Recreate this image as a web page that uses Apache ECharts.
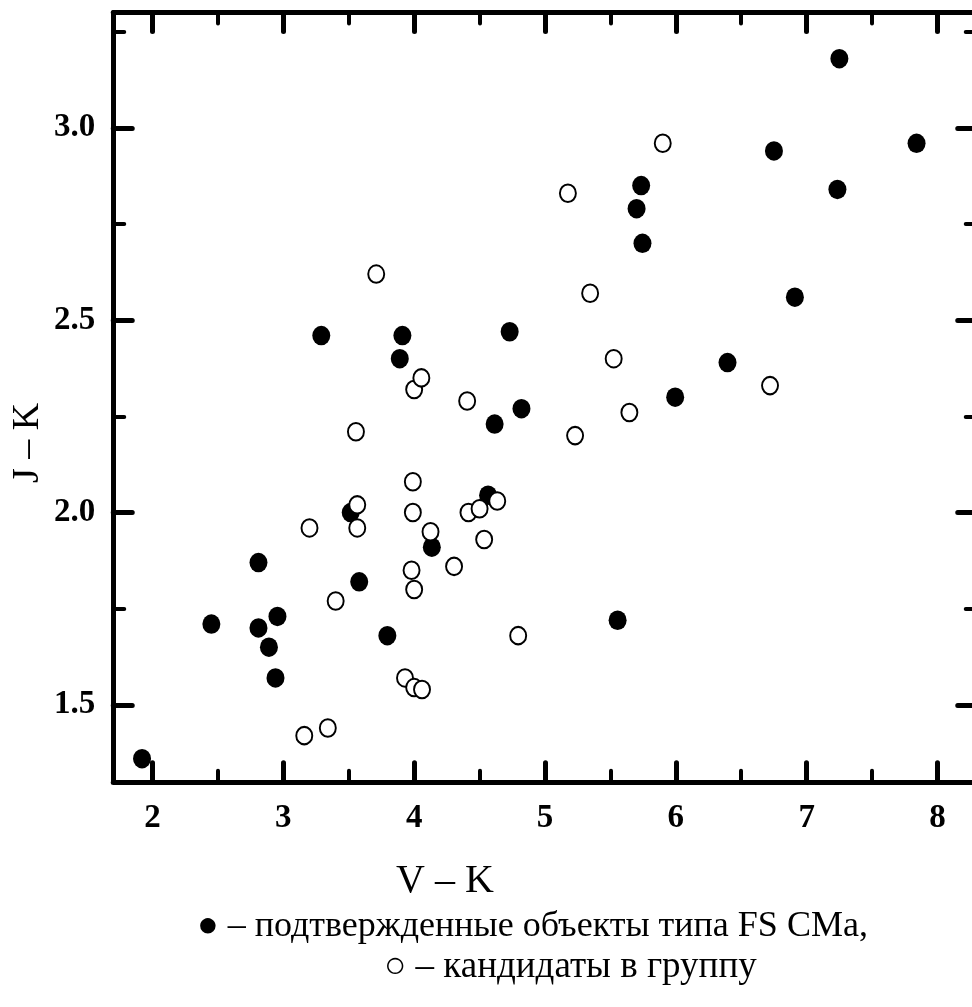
<!DOCTYPE html>
<html>
<head>
<meta charset="utf-8">
<style>
  html, body { margin: 0; padding: 0; background: #fff; }
  #chart { width: 972px; height: 1007px; }
</style>
<script src="https://cdn.jsdelivr.net/npm/echarts@6/dist/echarts.min.js"></script>
</head>
<body>
<div id="chart"></div>
<script>
// V–K versus J–K colour indices
// Confirmed FS CMa objects (filled circles)
const vkConfirmed = [1.92, 2.45, 2.81, 2.81, 2.89, 2.94, 2.955, 3.29, 3.515, 3.58, 3.795, 3.89, 3.91, 4.135, 4.565, 4.615, 4.73, 4.82, 5.555, 5.70, 5.735, 5.745, 5.995, 6.395, 6.75, 6.91, 7.235, 7.25, 7.84];
const jkConfirmed = [1.36, 1.71, 1.87, 1.70, 1.65, 1.57, 1.73, 2.46, 2.00, 1.82, 1.68, 2.40, 2.46, 1.91, 2.045, 2.23, 2.47, 2.27, 1.72, 2.79, 2.85, 2.70, 2.30, 2.39, 2.94, 2.56, 2.84, 3.18, 2.96];
// Group candidates (open circles)
const vkCandidates = [3.16, 3.34, 3.20, 3.40, 3.555, 3.565, 3.565, 3.71, 3.93, 4.00, 4.06, 3.98, 4.00, 3.99, 3.99, 4.00, 4.055, 4.125, 4.305, 4.405, 4.415, 4.50, 4.535, 4.635, 4.795, 5.175, 5.23, 5.345, 5.525, 5.645, 5.90, 6.72];
const jkCandidates = [1.42, 1.44, 1.96, 1.77, 2.21, 2.02, 1.96, 2.62, 1.57, 1.545, 1.54, 1.85, 1.80, 2.08, 2.00, 2.32, 2.35, 1.95, 1.86, 2.29, 2.00, 2.01, 1.93, 2.03, 1.68, 2.83, 2.20, 2.57, 2.40, 2.26, 2.96, 2.33];

// Axis ranges and tick positions
const xRange = [1.7, 8.3];
const yRange = [1.3, 3.3];
const xMajorTicks = [2, 3, 4, 5, 6, 7, 8];
const xMinorTicks = [2.5, 3.5, 4.5, 5.5, 6.5, 7.5];
const yMajorTicks = [1.5, 2.0, 2.5, 3.0];
const yMinorTicks = [1.75, 2.25, 2.75, 3.25];

const xTitle = 'V – K';
const yTitle = 'J – K';
const legendLines = ['● – подтвержденные объекты типа FS CMa,', '○ – кандидаты в группу'];

const FONT = '"Liberation Serif", "Times New Roman", serif';
const INK = '#000';

function pairs(xs, ys) { return xs.map((x, i) => [x, ys[i]]); }

function tickAxis(position, range, ticks, len, width, showLine, labels) {
  return {
    type: 'value',
    position: position,
    min: range[0],
    max: range[1],
    axisLine: { show: showLine, onZero: false, lineStyle: { color: INK, width: 5 } },
    axisTick: {
      show: true, inside: true, length: len, customValues: ticks,
      lineStyle: { color: INK, width: width, cap: 'round' }
    },
    axisLabel: labels ? Object.assign({ customValues: ticks }, labels) : { show: false },
    splitLine: { show: false },
    minorTick: { show: false }
  };
}

const tickLabelStyle = {
  show: true, fontFamily: FONT, fontSize: 33, fontWeight: 'bold', color: INK
};

const chart = echarts.init(document.getElementById('chart'), null, { renderer: 'canvas' });

chart.setOption({
  backgroundColor: '#fff',
  animation: false,
  grid: { left: 113.25, top: 12.5, width: 863.5, height: 769.3, outerBoundsMode: 'none' },
  xAxis: [
    tickAxis('bottom', xRange, xMajorTicks, 19, 5, true, Object.assign({ margin: 20 }, tickLabelStyle)),
    tickAxis('bottom', xRange, xMinorTicks, 11, 4, false, null),
    tickAxis('top', xRange, xMajorTicks, 19, 5, true, null),
    tickAxis('top', xRange, xMinorTicks, 11, 4, false, null)
  ],
  yAxis: [
    tickAxis('left', yRange, yMajorTicks, 19, 5, true,
      Object.assign({ margin: 18, formatter: v => v.toFixed(1) }, tickLabelStyle)),
    tickAxis('left', yRange, yMinorTicks, 11, 4, false, null),
    tickAxis('right', yRange, yMajorTicks, 19, 5, true, null),
    tickAxis('right', yRange, yMinorTicks, 11, 4, false, null)
  ],
  series: [
    {
      name: 'confirmed',
      type: 'scatter',
      xAxisIndex: 0, yAxisIndex: 0,
      data: pairs(vkConfirmed, jkConfirmed),
      symbol: 'circle',
      symbolSize: [18, 19.5],
      itemStyle: { color: INK, opacity: 1 },
      emphasis: { disabled: true }
    },
    {
      name: 'candidates',
      type: 'scatter',
      xAxisIndex: 0, yAxisIndex: 0,
      data: pairs(vkCandidates, jkCandidates),
      symbol: 'circle',
      symbolSize: [16, 17.5],
      itemStyle: { color: '#fff', borderColor: INK, borderWidth: 2, opacity: 1 },
      emphasis: { disabled: true }
    }
  ],
  graphic: [
    {
      type: 'text', left: 396, top: 861,
      style: { text: xTitle, font: '40px ' + FONT, fill: INK }
    },
    {
      type: 'text', x: 28, y: 443, rotation: Math.PI / 2,
      style: { text: yTitle, font: '38px ' + FONT, fill: INK, align: 'center', verticalAlign: 'middle' }
    },
    {
      type: 'text', x: 197, y: 927,
      style: { text: legendLines[0], font: '36px ' + FONT, fill: INK, align: 'left', verticalAlign: 'middle' }
    },
    {
      type: 'text', x: 384, y: 967,
      style: { text: legendLines[1], font: '37px ' + FONT, fill: INK, align: 'left', verticalAlign: 'middle' }
    }
  ]
});
</script>
</body>
</html>
